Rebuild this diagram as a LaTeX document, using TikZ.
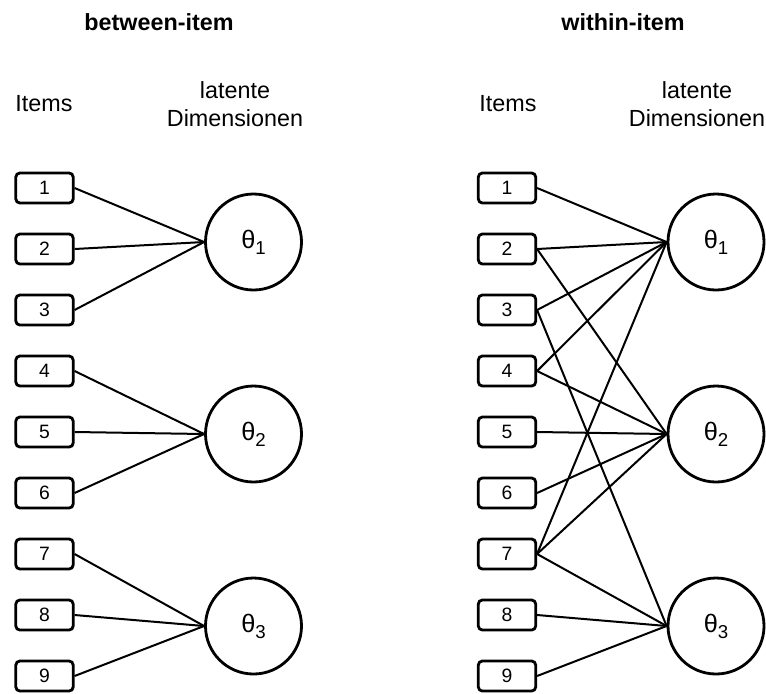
\documentclass[tikz,border=0pt]{standalone}
\usepackage{fontspec}
\setmainfont{Liberation Sans}
\usetikzlibrary{positioning}

\tikzset{
    itembox/.style={draw, rectangle, rounded corners=3pt, line width=2.1pt,
        minimum width=43pt, minimum height=22.5pt, inner sep=0pt,
        font=\fontsize{14.5}{16}\selectfont},
    latent/.style={draw, circle, line width=2.1pt, minimum size=72pt, inner sep=0pt,
        font=\fontsize{19}{21}\selectfont},
    load/.style={line width=1.5pt},
    heading/.style={font=\fontsize{17.5}{20}\selectfont\bfseries},
    label/.style={font=\fontsize{17.5}{21}\selectfont, align=center}
}
\newcommand{\thetasub}[1]{θ\raisebox{-0.45ex}{\fontsize{14}{14}\selectfont #1}}

\begin{document}
\begin{tikzpicture}[x=0.75pt, y=-0.75pt]
        \useasboundingbox (0,0) rectangle (766,693);

        % headings
        \node[heading] (hbetween) at (159,22) {between-item};
        \node[heading] (hwithin) at (623,22) {within-item};
        \node[label] (litemsL) at (44,104) {Items};
        \node[label] (ldimL) at (235,104) {latente\\Dimensionen};
        \node[label] (litemsR) at (508,104) {Items};
        \node[label] (ldimR) at (697,104) {latente\\Dimensionen};

        % items
        \foreach \i in {1,...,9} {
            \node[itembox] (bi\i) at (44.5,{188+61*(\i-1)}) {\i};
            \node[itembox] (wi\i) at (507,{188+61*(\i-1)}) {\i};
        }

        % latent dimensions
        \node[latent] (bt1) at (253.5,242) {\thetasub{1}};
        \node[latent] (bt2) at (253.5,434) {\thetasub{2}};
        \node[latent] (bt3) at (253.5,626) {\thetasub{3}};
        \node[latent] (wt1) at (716,242) {\thetasub{1}};
        \node[latent] (wt2) at (716,434) {\thetasub{2}};
        \node[latent] (wt3) at (716,626) {\thetasub{3}};

        % between-item
        \foreach \i/\t in {1/1,2/1,3/1,4/2,5/2,6/2,7/3,8/3,9/3}
            \draw[load] (bi\i.east) -- (bt\t.west);

        % within-item
        \foreach \i/\t in {1/1,2/1,2/2,3/1,3/3,4/1,4/2,5/2,6/2,7/1,7/2,7/3,8/3,9/3}
            \draw[load] (wi\i.east) -- (wt\t.west);

    \end{tikzpicture}
\end{document}
